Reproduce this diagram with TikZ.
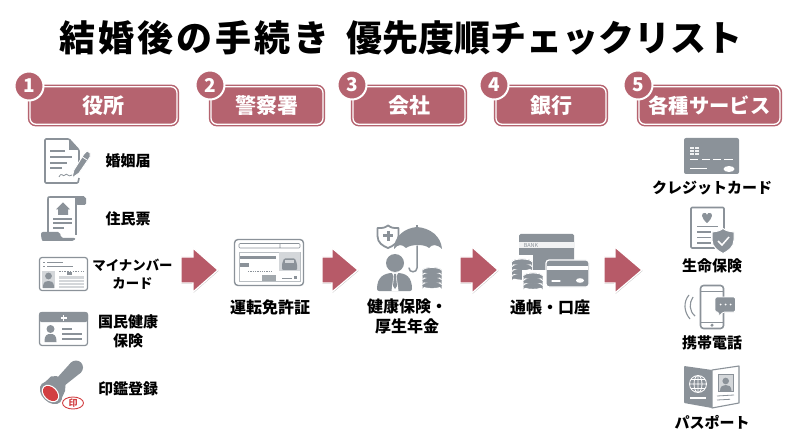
\documentclass[tikz,border=0pt]{standalone}
\usepackage{fontspec}
\setmainfont{Noto Sans CJK JP}
\usetikzlibrary{shadows}
\definecolor{rose}{HTML}{B5636F}
\definecolor{arrowrose}{HTML}{B75A68}
\definecolor{ink}{HTML}{8B9299}
\definecolor{pale}{HTML}{D4D7DA}
\definecolor{stampred}{HTML}{D23F42}
\tikzset{
  every node/.style={inner sep=0,outer sep=0,text=black,font=\bfseries},
  hdr/.style={rectangle,rounded corners=6pt,draw=rose,line width=1.5pt,double=white,double distance=1.3pt,fill=rose,
    minimum height=37.5pt,text=white,font=\bfseries\fontsize{21}{21}\selectfont},
  num/.style={circle,fill=rose,draw=white,line width=2pt,minimum size=29pt,text=white,font=\bfseries\fontsize{19}{19}\selectfont},
  lbl/.style={align=center,font=\bfseries\fontsize{15}{19}\selectfont},
  blockarrow/.style={fill=arrowrose,draw=white,line width=1.3pt,line join=miter,drop shadow={shadow xshift=.6pt,shadow yshift=-.8pt,opacity=.28,fill=black}},
  ico/.style={draw=ink,line width=1.6pt,line join=round},
  wl/.style={draw=white,line width=1.3pt,line cap=round},
  gl/.style={draw=ink,line width=1.3pt},
}
\newcommand\coins[5]{% cx,top cy,n,rx,step
  \foreach \i in {#3,...,0}{
    \fill[ink] ({#1-#4},{#2+\i*#5}) -- ({#1-#4},{#2+\i*#5+#5-1}) arc[start angle=180,end angle=360,x radius=#4,y radius=3] -- ({#1+#4},{#2+\i*#5}) -- cycle;
    \draw[ink,fill=ink] (#1,{#2+\i*#5}) ellipse [x radius=#4,y radius=3];
    \draw[white,line width=.8pt] ({#1-#4},{#2+\i*#5}) arc[start angle=180,end angle=360,x radius=#4,y radius=3];
  }
}
\newcommand\barrow[6]{% x0,neck,tip,cy,shaft half,head half
  \path[blockarrow] (#1,{#4-#5}) -- (#2,{#4-#5}) -- (#2,{#4-#6}) -- (#3,#4) -- (#2,{#4+#6}) -- (#2,{#4+#5}) -- (#1,{#4+#5}) -- cycle;
}
\begin{document}
\begin{tikzpicture}[x=1pt,y=-1pt]
\useasboundingbox (0,0) rectangle (800,446);
\fill[white] (0,0) rectangle (800,446);

\node[font=\bfseries\fontsize{36}{38}\selectfont] (title) at (401,38) {{\addfontfeature{LetterSpace=8.5}結婚後の手続き}\hspace{.46em}優先度順チェックリスト};

% headers
\node[hdr,minimum width=147pt] (h1) at (103.5,105.5) {役所};
\node[hdr,minimum width=112pt] (h2) at (267,105.5) {警察署};
\node[hdr,minimum width=112pt] (h3) at (409,105.5) {会社};
\node[hdr,minimum width=110pt] (h4) at (551,105.5) {銀行};
\node[hdr,minimum width=141pt,font=\bfseries\fontsize{20.3}{21}\selectfont] (h5) at (709.5,105.5) {各種サービス};
\node[num] (n1) at (29,86) {1};
\node[num] (n2) at (210,85) {2};
\node[num] (n3) at (352,85) {3};
\node[num] (n4) at (494,85) {4};
\node[num] (n5) at (638,85) {5};

% block arrows
\barrow{181}{193}{218}{270}{13}{22}
\barrow{322}{332}{358}{270}{13}{22}
\barrow{460}{472}{498}{270}{13}{23}
\barrow{604}{615}{642}{270}{13}{23}

% labels
\node[lbl] (t1) at (128,161) {婚姻届};
\node[lbl] (t2) at (128,219) {住民票};
\node[lbl,font=\bfseries\fontsize{13.4}{18}\selectfont] (t3) at (132.5,274) {マイナンバー\\カード};
\node[lbl] (t4) at (128,331) {国民健康\\保険};
\node[lbl] (t5) at (128,389) {印鑑登録};
\node[lbl,font=\bfseries\fontsize{16}{20}\selectfont] (t6) at (270,307) {運転免許証};
\node[lbl,font=\bfseries\fontsize{16}{20}\selectfont] (t7) at (407,316) {健康保険・\\厚生年金};
\node[lbl,font=\bfseries\fontsize{16}{20}\selectfont] (t8) at (550,307) {通帳・口座};
\node[lbl] (t9) at (712,188) {クレジットカード};
\node[lbl] (t10) at (712,266) {生命保険};
\node[lbl] (t11) at (712,343) {携帯電話};
\node[lbl] (t12) at (712,422) {パスポート};

% --- icon: marriage form
\draw[ico,rounded corners=1pt] (79,170) -- (79,150) -- (69,139) -- (45,139) -- (45,183) -- (78,183) -- (79,178);
\fill[ink] (69,139) -- (79,150) -- (69,150) -- cycle;
\draw[gl] (50,151)--(65,151) (50,157)--(72,157) (50,163)--(67,163) (50,168)--(62,168);
\draw[ink,line width=.8pt] (59,177) .. controls (62,171) and (63,178) .. (65,175) .. controls (67,172) and (68,178) .. (72,175);
\fill[ink,draw=white,line width=.8pt] (72,178) -- (74,170) -- (84,154) -- (87,151) -- (90,153) -- (90,157) -- (79,173) -- cycle;
\draw[white,line width=.8pt] (81,156)--(87,160);

% --- icon: residence record
\draw[ico] (48,233) -- (48,199) .. controls (48,197) .. (50,197) -- (84,197);
\draw[ico] (76,197) -- (76,235);
\fill[ink,rounded corners=1.5pt] (76,197) -- (86,197) -- (86,205) -- (76,205) -- cycle;
\fill[white] (49,198) rectangle (75,232);
\fill[ink,rounded corners=2pt] (41,232) -- (60,232) -- (61,238) -- (76,238) .. controls (74,241) .. (70,241) -- (46,241) .. controls (42,241) .. (41,236) -- cycle;
\fill[ink] (63,202.5) -- (70,209.5) -- (68,209.5) -- (68,215) -- (58,215) -- (58,209.5) -- (56,209.5) -- cycle;
\draw[gl] (53,219)--(72,219) (53,223)--(72,223) (53,228)--(64,228);

% --- icon: my number card
\draw[ico,line width=1.2pt,fill=white,rounded corners=2.5pt] (39.5,257.5) rectangle (87.5,290.5);
\draw[gl,line width=.9pt] (43,262)--(45,262) (47,262)--(63,262) (43,266)--(45,266) (47,266)--(73,266);
\fill[pale] (42,271) rectangle (55,288);
\fill[ink] (48.5,276) circle (3.4);
\fill[ink] (43,288) .. controls (43,281) and (46,281) .. (48.5,281) .. controls (51,281) and (54,281) .. (54,288) -- cycle;
\draw[ink,line width=.9pt,dash pattern=on 1.5pt off 1.2pt] (59,271)--(84,271);
\fill[ink] (67,272.5) rectangle (72,275);
\fill[pale] (59,276) rectangle (84,288);
\draw[white,line width=.5pt] (59,279)--(84,279) (59,282)--(84,282) (59,285)--(84,285);

% --- icon: health card
\draw[ico,line width=1.2pt,fill=white,rounded corners=2.5pt] (39.5,312.5) rectangle (87.5,345.5);
\fill[ink,rounded corners=2.5pt] (39,312) -- (88,312) -- (88,322) -- (39,322) -- cycle;
\draw[white,line width=1.8pt] (63.5,315)--(63.5,321) (60.5,318)--(66.5,318);
\fill[ink] (50.5,329) circle (4);
\fill[ink] (44.5,342) .. controls (44.5,335) and (47,334) .. (50.5,334) .. controls (54,334) and (56.5,335) .. (56.5,342) -- cycle;
\draw[gl] (62,329)--(72,329) (62,334)--(82,334) (62,339)--(82,339);

% --- icon: seal stamp
\fill[ink] (57,378) -- (71,362.5) -- (81,372.5) -- (64,386) -- cycle;
\fill[ink] (76,367.5) circle (7);
\fill[ink] (43,384) -- (51,376.5) -- (57,376) -- (65.5,385) -- (65,391) -- (60,402) -- cycle;
\fill[ink,rotate around={-45:(51,393)}] (51,393) ellipse [x radius=13,y radius=9];
\fill[white,rotate around={-45:(50.5,393.5)}] (50.5,393.5) ellipse [x radius=10,y radius=7.2];
\fill[stampred,rotate around={-45:(50.5,393.5)}] (50.5,393.5) ellipse [x radius=8.8,y radius=6];
\draw[stampred,line width=.9pt] (73,403) ellipse [x radius=10.5,y radius=6];
\node[text=stampred,font=\bfseries\fontsize{9}{9}\selectfont] (seal) at (73,403) {印};

% --- icon: driving licence
\draw[draw=ink,line width=1.4pt,fill=white,rounded corners=3.5pt] (234.5,239.5) rectangle (303.5,285.5);
\draw[ink,line width=.6pt,rounded corners=1pt] (239,243.5) rectangle (300,248) (280,243.5)--(280,248);
\draw[ink!60,line width=.6pt] (239,252) rectangle (300,281);
\fill[pale] (279,252) rectangle (300,271);
\fill[ink] (240,256) rectangle (276,259.5);
\fill[ink] (240,263.5) rectangle (249,267.5);
\draw[ink,line width=1pt,dash pattern=on 1.3pt off 1pt] (248,272)--(272,272);
\fill[ink!80] (262,275) rectangle (276,281);
\fill[ink,rounded corners=1pt] (282,264) -- (284,258.5) -- (295,258.5) -- (297,264) -- (297,270) -- (282,270) -- cycle;
\fill[pale] (285,260) rectangle (294,263.5);
\draw[ink,line width=.7pt] (282,278)--(292,278);
\fill[ink] (294,276.5) rectangle (297,279);

% --- icon: health insurance & pension
\draw[ico,line width=1.8pt,fill=white] (388,225.5) .. controls (392,228) .. (398.5,228) -- (398.5,236) .. controls (398.5,243) and (393,246) .. (388,248) .. controls (383,246) and (377.5,243) .. (377.5,236) -- (377.5,228) .. controls (384,228) .. (388,225.5) -- cycle;
\draw[ink,line width=3pt] (388,231)--(388,241) (383,236)--(393,236);
\fill[ink] (394,249) .. controls (394,236) and (405,228) .. (417,227) .. controls (430,228) and (441,236) .. (442,249) .. controls (437,244) and (432,244) .. (429,248) .. controls (425,244) and (411,244) .. (406,248) .. controls (402,244) and (398,244) .. (394,249) -- cycle;
\draw[ink,line width=1.3pt] (417,225)--(417,228);
\draw[ink,line width=1.5pt,line cap=round] (417,246)--(417,268) .. controls (417,273) and (409,273) .. (409,268);
\fill[ink] (395,263) circle (9);
\fill[ink,rounded corners=2pt] (377,291) .. controls (377,277) and (384,273) .. (395,273) .. controls (406,273) and (412,277) .. (412,291) -- cycle;
\fill[white] (392,273) -- (398,273) -- (396.5,276) -- (398.5,291) -- (391.5,291) -- (393.5,276) -- cycle;
\fill[ink] (394,274) -- (396,274) -- (396,276) -- (397,286) -- (395,289) -- (393,286) -- (394,276) -- cycle;
\coins{432}{270.5}{3}{9.5}{4.8}

% --- icon: bank book
\fill[ink,rounded corners=1.5pt] (519,234) rectangle (574,270);
\fill[white!88!ink] (519,242) rectangle (574,248);
\node[text=ink,font=\fontsize{5.5}{6}\selectfont] (bank) at (531,245) {BANK};
\fill[white] (511,255) rectangle (533,271);
\coins{522}{262}{3}{10}{4.8}
\fill[white] (522,270) rectangle (544,280);
\coins{533}{276}{2}{9.5}{4.8}
\fill[ink,draw=white,line width=1.2pt,rounded corners=3pt] (546,260) rectangle (589,287);
\fill[white] (547,266) rectangle (588,270);
\draw[wl] (552,281)--(560,281);
\fill[white] (580,280.5) ellipse [x radius=4,y radius=2.3];

% --- icon: credit card
\fill[ink,rounded corners=2pt] (684,138) rectangle (739,174);
\fill[white!88!ink] (690,147) rectangle (699,155);
\draw[ink,line width=.5pt] (690,149.5)--(699,149.5) (690,152.5)--(699,152.5) (694.5,147)--(694.5,155);
\draw[wl,line width=1pt,line cap=butt] (690,160)--(698,160) (702,160)--(710,160) (713,160)--(721,160) (724,160)--(733,160) (690,169)--(707,169);
\fill[white] (729,169) ellipse [x radius=5.5,y radius=3];

% --- icon: life insurance
\draw[ico,rounded corners=1pt,fill=white] (691,207.5) rectangle (724,248);
\fill[ink] (707,223) .. controls (701,218) and (701,213) .. (704,213) .. controls (706,213) .. (707,215) .. controls (708,213) .. (710,213) .. controls (713,213) and (713,218) .. (707,223) -- cycle;
\draw[gl] (697,226.5)--(718,226.5) (697,232)--(711,232) (697,237.5)--(711,237.5) (697,243)--(711,243);
\fill[ink,draw=white,line width=1pt] (723,228.5) .. controls (727,231) .. (734,232) -- (734,240) .. controls (734,247) and (728,251) .. (723,253.5) .. controls (718,251) and (712,247) .. (712,240) -- (712,232) .. controls (719,231) .. (723,228.5) -- cycle;
\draw[white,line width=1.5pt] (718,241)--(722,245)--(729,237);

% --- icon: mobile phone
\draw[ico,rounded corners=3pt,fill=white] (700.5,285.5) rectangle (723.5,328.5);
\draw[gl,line width=.9pt] (700.5,291)--(723.5,291) (700.5,322)--(723.5,322);
\fill[ink] (712,325.2) circle (1.7);
\fill[ink,draw=white,line width=.8pt,rounded corners=1.5pt] (715,297) -- (735.5,297) -- (735.5,312) -- (723,312) -- (718.8,316.5) -- (718.8,312) -- (715,312) -- cycle;
\fill[white] (720.5,304.5) circle (1) (725.5,304.5) circle (1) (730.5,304.5) circle (1);
\draw[ink,line width=1.1pt] (693,297) .. controls (689,303) and (689,311) .. (695,316);
\draw[ink,line width=1.1pt] (689,295) .. controls (683,302) and (684,312) .. (690,319);

% --- icon: passport
\fill[ink,rounded corners=.8pt] (684,366) -- (712,370) -- (712,408) -- (684,403) -- cycle;
\draw[ico,line width=1.1pt,fill=white] (712,370) -- (739,366) -- (739,403) -- (712,408) -- cycle;
\draw[white,line width=.8pt] (698,384) circle (8.5) (698,384) ellipse [x radius=4,y radius=8.5] (689.5,384)--(706.5,384) (691,379.5)--(705,379.5) (691,388.5)--(705,388.5) (698,375.5)--(698,392.5);
\draw[wl,line cap=butt] (690,398)--(706,398);
\draw[ink,line width=.9pt] (718.5,374.5) rectangle (733,391.5);
\fill[pale] (719,375) rectangle (732.5,391);
\fill[ink] (725.7,381) circle (3.3);
\fill[ink] (720,391) .. controls (720,386) and (723,385) .. (725.7,385) .. controls (728.5,385) and (731.5,386) .. (731.5,391) -- cycle;
\draw[gl,line width=.8pt] (717,396)--(734,395) (717,400)--(730,399.3);
\end{tikzpicture}
\end{document}
